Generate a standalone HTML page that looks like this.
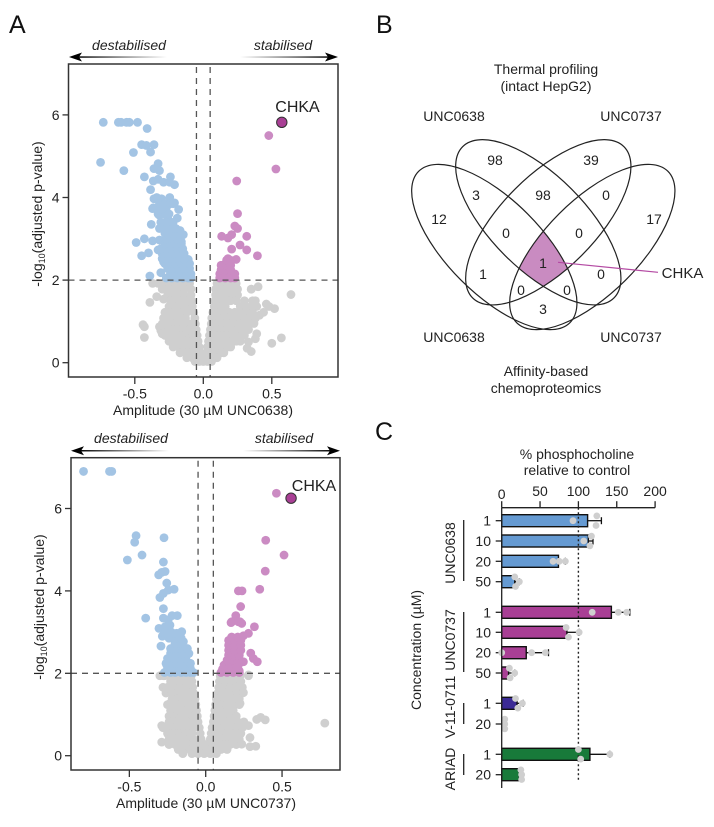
<!DOCTYPE html>
<html lang="en">
<head>
<meta charset="utf-8">
<title>CHKA thermal profiling figure</title>
<style>
html,body{margin:0;padding:0;background:#fff;}
svg{display:block;font-family:"Liberation Sans",sans-serif;fill:#222;filter:blur(0.35px);}
text{font-size:14px;}
.big{font-size:25px;fill:#111;}
.it{font-style:italic;}
</style>
</head>
<body>
<svg id="figure" xmlns="http://www.w3.org/2000/svg" width="714" height="827" viewBox="0 0 714 827">
<defs>
<linearGradient id="fadeL" x1="0" x2="1" y1="0" y2="0"><stop offset="0" stop-color="#000"/><stop offset="1" stop-color="#fff"/></linearGradient>
<linearGradient id="fadeR" x1="0" x2="1" y1="0" y2="0"><stop offset="0" stop-color="#fff"/><stop offset="1" stop-color="#000"/></linearGradient>
<clipPath id="c1"><ellipse cx="494.3" cy="247" rx="107" ry="47" transform="rotate(45 494.3 247)"/></clipPath>
<clipPath id="c2" clip-path="url(#c1)"><ellipse cx="538.3" cy="222.3" rx="107" ry="47" transform="rotate(45 538.3 222.3)"/></clipPath>
<clipPath id="c3" clip-path="url(#c2)"><ellipse cx="548.3" cy="222.3" rx="107" ry="47" transform="rotate(-45 548.3 222.3)"/></clipPath>
<clipPath id="c4" clip-path="url(#c3)"><ellipse cx="592.3" cy="247" rx="107" ry="47" transform="rotate(-45 592.3 247)"/></clipPath>
</defs>

<text class="big" x="9" y="33">A</text>
<text class="big" x="376" y="33">B</text>
<text class="big" x="375" y="440">C</text>

<g id="volcanoA"></g>
<g id="volcanoB"></g>

<g>
<text class="it" x="129" y="50" text-anchor="middle">destabilised</text>
<text class="it" x="283" y="50" text-anchor="middle">stabilised</text>
<rect x="76" y="56.3" width="91" height="1.5" fill="url(#fadeL)"/>
<polygon points="69,57 82,52.5 79,57 82,61.5" fill="#000"/>
<rect x="240" y="56.3" width="92" height="1.5" fill="url(#fadeR)"/>
<polygon points="338,57 325,52.5 328,57 325,61.5" fill="#000"/>
<text x="297.5" y="112" text-anchor="middle" style="font-size:16px">CHKA</text>
<text x="203" y="415" text-anchor="middle">Amplitude (30 µM UNC0638)</text>
<text transform="translate(42 214) rotate(-90)" text-anchor="middle">-log<tspan dy="3" style="font-size:9px">10</tspan><tspan dy="-3">(adjusted p-value)</tspan></text>
</g>

<g>
<text class="it" x="131" y="443" text-anchor="middle">destabilised</text>
<text class="it" x="284" y="443" text-anchor="middle">stabilised</text>
<rect x="78" y="450" width="91" height="1.5" fill="url(#fadeL)"/>
<polygon points="71,450.7 84,446.2 81,450.7 84,455.2" fill="#000"/>
<rect x="243" y="450" width="91" height="1.5" fill="url(#fadeR)"/>
<polygon points="340,450.7 327,446.2 330,450.7 327,455.2" fill="#000"/>
<text x="314" y="491" text-anchor="middle" style="font-size:16px">CHKA</text>
<text x="206" y="808" text-anchor="middle">Amplitude (30 µM UNC0737)</text>
<text transform="translate(44 607) rotate(-90)" text-anchor="middle">-log<tspan dy="3" style="font-size:9px">10</tspan><tspan dy="-3">(adjusted p-value)</tspan></text>
</g>

<g>
<rect x="400" y="150" width="290" height="190" fill="#c98bc1" clip-path="url(#c4)"/>
<g fill="none" stroke="#222" stroke-width="1.2">
<ellipse cx="494.3" cy="247" rx="107" ry="47" transform="rotate(45 494.3 247)"/>
<ellipse cx="538.3" cy="222.3" rx="107" ry="47" transform="rotate(45 538.3 222.3)"/>
<ellipse cx="548.3" cy="222.3" rx="107" ry="47" transform="rotate(-45 548.3 222.3)"/>
<ellipse cx="592.3" cy="247" rx="107" ry="47" transform="rotate(-45 592.3 247)"/>
</g>
<line x1="558" y1="262.3" x2="658" y2="272.3" stroke="#b44aa3" stroke-width="1.2"/>
<g text-anchor="middle">
<text x="546" y="74">Thermal profiling</text>
<text x="546" y="91">(intact HepG2)</text>
<text x="454" y="121">UNC0638</text>
<text x="631" y="121">UNC0737</text>
<text x="454" y="342">UNC0638</text>
<text x="631" y="342">UNC0737</text>
<text x="546" y="376">Affinity-based</text>
<text x="546" y="393">chemoproteomics</text>
<text x="495" y="165">98</text>
<text x="591" y="165">39</text>
<text x="476" y="200">3</text>
<text x="543" y="200">98</text>
<text x="606" y="200">0</text>
<text x="439" y="224">12</text>
<text x="654" y="224">17</text>
<text x="506" y="238">0</text>
<text x="579" y="238">0</text>
<text x="543" y="268">1</text>
<text x="483" y="279">1</text>
<text x="601" y="279">0</text>
<text x="521" y="295">0</text>
<text x="567" y="295">0</text>
<text x="543" y="314">3</text>
<text x="682.5" y="278" style="font-size:15px">CHKA</text>
</g>
</g>

<g id="barChart">
<text x="577" y="459" text-anchor="middle">% phosphocholine</text>
<text x="577" y="475" text-anchor="middle">relative to control</text>
<text transform="translate(421 650) rotate(-90)" text-anchor="middle">Concentration (µM)</text>
<text transform="translate(455 553) rotate(-90)" text-anchor="middle">UNC0638</text>
<text transform="translate(455 640) rotate(-90)" text-anchor="middle">UNC0737</text>
<text transform="translate(455 707) rotate(-90)" text-anchor="middle">V-11-0711</text>
<text transform="translate(455 769) rotate(-90)" text-anchor="middle">ARIAD</text>
<g stroke="#222" stroke-width="1.3">
<line x1="463.7" x2="463.7" y1="520" y2="581"/>
<line x1="463.7" x2="463.7" y1="612" y2="672"/>
<line x1="463.7" x2="463.7" y1="703" y2="724"/>
<line x1="463.7" x2="463.7" y1="754" y2="775"/>
</g>
</g>

<script>
/* ---------- Volcano A data (amplitude, -log10 p) ---------- */
const volcanoXTicks = [-0.5, 0, 0.5];
const volcanoYTicks = [0, 2, 4, 6];
const thresholdAmplitude = 0.05;
const thresholdLogP = 2;

const greyRowsA = [
 [1.92,[-.37,-.33,-.29,-.25,-.21,-.17,-.13,-.1,.1,.14,.18,.22,.24]],
 [1.78,[-.3,-.26,-.22,-.18,-.14,-.09,.09,.13,.17,.21,.25,.35]],
 [1.64,[-.26,-.22,-.18,-.14,-.09,.09,.13,.17,.21,.25]],
 [1.5,[-.24,-.2,-.16,-.12,-.085,.085,.12,.16,.2,.24,.3,.36,.38]],
 [1.36,[-.25,-.21,-.17,-.13,-.08,.08,.12,.16,.27,.31,.35,.39]],
 [1.22,[-.28,-.24,-.2,-.16,-.12,-.07,.07,.11,.15,.19,.23,.27,.31,.36,.44]],
 [1.08,[-.29,-.25,-.21,-.17,-.13,-.062,.062,.1,.14,.18,.22,.26,.3,.34,.38]],
 [.94,[-.3,-.26,-.22,-.18,-.14,-.1,-.058,.058,.1,.14,.18,.22,.26,.3,.34]],
 [.8,[-.31,-.26,-.22,-.18,-.14,-.1,-.052,.052,.09,.13,.17,.21,.25,.29,.33]],
 [.66,[-.28,-.24,-.2,-.16,-.12,-.08,-.045,.045,.08,.12,.16,.2,.24,.28,.3]],
 [.52,[-.25,-.21,-.17,-.13,-.09,-.038,.038,.08,.12,.16,.2,.24,.27]],
 [.38,[-.22,-.18,-.14,-.1,-.06,-.03,.03,.06,.1,.14,.18,.2]],
 [.24,[-.17,-.13,-.09,-.05,-.02,.02,.05,.09,.13,.15]],
 [.12,[-.12,-.08,-.05,-.02,.02,.05,.08,.1]],
 [.03,[-.06,-.03,0,.03,.06]]
];
const greyOutliersA = [[-.34,1.6],[-.29,1.54],[-.39,1.46],[-.44,.92],[-.43,.87],[-.43,.61],[-.32,.87],[-.31,.78],[-.3,.7],[.35,1.78],[.4,1.84],[.64,1.65],[.46,1.42],[.52,1.31],[.48,1.36],[.41,1.15],[.37,.95],[.39,.7],[.38,.58],[.5,.47],[.57,.6],[.33,.5],[.35,.27],[.32,.35]];
const blueA = [[-.73,5.82],[-.62,5.82],[-.6,5.82],[-.56,5.82],[-.54,5.82],[-.48,5.82],[-.41,5.67],[-.45,5.28],[-.415,5.26],[-.36,5.28],[-.51,5.09],[-.385,5.1],[-.75,4.85],[-.58,4.65],[-.43,4.5],[-.33,4.82],[-.36,4.7],[-.32,4.65],[-.365,4.4],[-.33,4.44],[-.24,4.5],[-.29,4.37],[-.245,4.37],[-.21,4.31],[-.385,4.19],[-.36,3.97],[-.34,4],[-.305,3.97],[-.245,4],[-.21,3.87],[-.365,3.75],[-.27,3.75],[-.18,3.71],[-.37,3.73],[-.32,3.57],[-.26,3.5],[-.19,3.5],[-.38,3.35],[-.29,3.37],[-.245,3.29],[-.32,3.25],[-.17,3.2],[-.49,2.91],[-.43,3],[-.37,2.95],[-.146,3.1],[-.28,3.13],[-.22,3.05],[-.16,2.93],[-.32,2.97],[-.45,2.59],[-.4,2.66],[-.33,2.73],[-.29,2.44],[-.39,2.1],[-.31,2.18],[-.11,2.5]];
const blueRowsA = [
 [2.05,[-.27,-.23,-.19,-.15,-.11,-.09]],
 [2.15,[-.24,-.2,-.16,-.12,-.09]],
 [2.28,[-.26,-.22,-.18,-.14,-.1]],
 [2.4,[-.28,-.24,-.2,-.16,-.12,-.1]],
 [2.52,[-.3,-.26,-.22,-.18,-.14]],
 [2.64,[-.3,-.26,-.22,-.18,-.14]],
 [2.76,[-.31,-.27,-.23,-.19,-.15]],
 [2.88,[-.28,-.24,-.2,-.16]],
 [3.0,[-.27,-.23,-.19]],
 [3.12,[-.26,-.22,-.18]],
 [3.25,[-.29,-.24,-.2]],
 [3.4,[-.31,-.27,-.22]],
 [3.6,[-.33,-.29,-.25]],
 [3.72,[-.34,-.3]],
 [3.85,[-.32,-.28,-.24,-.22]]
];
const purpleA = [[.478,5.5],[.53,4.69],[.244,4.4],[.25,3.61],[.23,3.31],[.25,3.25],[.317,3.06],[.207,3.1],[.134,3.06],[.18,3.02],[.268,2.85],[.207,2.75],[.317,2.73],[.395,2.59],[.24,2.5],[.18,2.52],[.13,2.36]];
const purpleRowsA = [
 [2.05,[.12,.16,.2,.23]],
 [2.15,[.12,.16,.2,.23]],
 [2.25,[.13,.16,.2]],
 [2.36,[.14,.17,.2]],
 [2.48,[.17,.2]]
];
const chkaA = [0.573, 5.82];

/* ---------- Volcano B data ---------- */
const greyRowsB = [
 [1.94,[-.3,-.27,-.23,-.19,-.15,-.11,-.095,.095,.13,.17,.21,.225,.28]],
 [1.8,[-.23,-.19,-.15,-.11,-.09,.09,.13,.17,.21,.23]],
 [1.66,[-.28,-.25,-.21,-.17,-.13,-.085,.085,.12,.16,.2,.24]],
 [1.52,[-.26,-.22,-.18,-.14,-.1,-.08,.08,.12,.16,.2,.24]],
 [1.38,[-.22,-.18,-.14,-.1,-.07,.07,.11,.15,.19,.22]],
 [1.24,[-.25,-.21,-.17,-.13,-.09,-.065,.065,.1,.14,.18,.22]],
 [1.1,[-.23,-.19,-.15,-.11,-.06,.06,.1,.14,.18]],
 [.96,[-.24,-.2,-.16,-.12,-.08,-.055,.055,.09,.13,.17,.2]],
 [.82,[-.24,-.2,-.16,-.12,-.08,-.05,.05,.09,.13,.17,.21,.25]],
 [.68,[-.28,-.24,-.2,-.16,-.12,-.08,-.042,.042,.08,.12,.16,.2,.24]],
 [.54,[-.25,-.21,-.17,-.13,-.09,-.036,.036,.07,.11,.15,.19,.23]],
 [.4,[-.24,-.2,-.16,-.12,-.08,-.03,.03,.07,.11,.15,.19,.22]],
 [.27,[-.24,-.2,-.16,-.12,-.08,-.04,0,.04,.08,.12,.16,.2]],
 [.15,[-.18,-.14,-.1,-.06,-.02,.02,.06,.1,.14]],
 [.05,[-.15,-.09,-.05,-.01,.03,.07]]
];
const greyOutliersB = [[.78,.79],[.39,.87],[.36,.93],[.334,.88],[.28,.73],[.26,.75],[.29,.44],[.328,.23],[.29,.22],[.236,.28],[.28,1.96],[.247,1.53],[.225,1.27],[-.277,1.94],[-.255,1.64],[-.234,1.27],[-.288,.73],[-.288,.33],[-.15,.07]];
const blueB = [[-.8,6.9],[-.63,6.9],[-.615,6.9],[-.456,5.34],[-.465,5.18],[-.273,5.29],[-.513,4.75],[-.417,4.87],[-.277,4.7],[-.308,4.39],[-.288,4.45],[-.266,4.47],[-.255,4.19],[-.3,3.84],[-.277,3.94],[-.245,4.02],[-.207,4.04],[-.277,3.57],[-.393,3.34],[-.277,3.34],[-.22,3.4],[-.186,3.4],[-.306,3.09],[-.266,3.13],[-.234,3.17],[-.245,3.3],[-.157,3.01],[-.284,2.9],[-.234,2.89],[-.19,2.85],[-.293,2.66],[-.2,2.73],[-.146,2.77],[-.124,2.53],[-.255,2.2],[-.1,2.24],[-.26,3.0],[-.225,3.0]];
const blueRowsB = [
 [2.02,[-.27,-.23,-.2,-.16,-.13,-.1,-.08]],
 [2.12,[-.25,-.21,-.17,-.13,-.1]],
 [2.24,[-.26,-.22,-.18,-.14,-.1]],
 [2.36,[-.25,-.21,-.17,-.13]],
 [2.48,[-.23,-.19,-.15,-.11]],
 [2.6,[-.23,-.19,-.15,-.12]],
 [2.72,[-.2,-.16]],
 [2.85,[-.24,-.2,-.16]],
 [2.97,[-.27,-.23,-.19]]
];
const purpleB = [[.463,6.37],[.393,5.23],[.513,4.87],[.39,4.48],[.354,4.04],[.214,4],[.238,4],[.229,3.62],[.197,3.4],[.17,3.25],[.225,3.25],[.166,3.23],[.214,3.25],[.236,3.21],[.319,3.13],[.28,2.97],[.247,2.91],[.295,2.49],[.312,2.36],[.338,2.28],[.247,2.28],[.214,2.2],[.22,2.06]];
const purpleRowsB = [
 [2.02,[.1,.14,.18,.22]],
 [2.1,[.11,.15,.19]],
 [2.2,[.12,.16,.2]],
 [2.32,[.14,.18,.21]],
 [2.44,[.15,.19,.22]],
 [2.56,[.15,.19,.23]],
 [2.68,[.15,.19,.23]],
 [2.8,[.15,.19,.23]],
 [2.88,[.17,.21]]
];
const chkaB = [0.559, 6.25];

/* ---------- Bar chart data ---------- */
const barXTicks = [0, 50, 100, 150, 200];
const concentrations = ['1','10','20','50','1','10','20','50','1','20','1','20'];
const barGroups = ['UNC0638','UNC0638','UNC0638','UNC0638','UNC0737','UNC0737','UNC0737','UNC0737','V-11-0711','V-11-0711','ARIAD','ARIAD'];
const barValues = [112, 113, 74, 17, 143, 85, 32, 9, 20, 0, 115, 23];
const barErrors = [130, 119, 83, 23, 167, 101, 61, 17, 28, 4, 141, 26];
const replicates = [[124,93,123],[117,107,115],[67,75,83],[17,23,18],[118,152,163],[84,101,87],[0,39,57],[10,17,11],[18,27,21],[4,4,4],[100,141,103],[25,26,26]];
const replicatesStacked = [true,true,false,true,false,true,false,true,true,true,true,true];
const referenceLevel = 100;

/* ---------- Helpers ---------- */
const NS = 'http://www.w3.org/2000/svg';
function mk(parent, tag, attrs, txt) {
  const el = document.createElementNS(NS, tag);
  for (const k in attrs) el.setAttribute(k, attrs[k]);
  if (txt !== undefined) el.textContent = txt;
  parent.appendChild(el);
  return el;
}
function expandRows(rows) {
  const out = [];
  rows.forEach(r => r[1].forEach(x => out.push([x, r[0]])));
  return out;
}
function drawVolcano(root, geo, grey, blue, purple, chka) {
  const sx = v => geo.x0 + v * geo.xs;
  const sy = v => geo.y0 - v * geo.ys;
  const series = [[grey, '#cfcfcf', 'not-significant-point'], [blue, '#a3c4e4', 'destabilised-point'], [purple, '#cb8bc3', 'stabilised-point']];
  series.forEach(s => {
    s[0].forEach(p => {
      const c = mk(root, 'circle', {cx: sx(p[0]), cy: sy(p[1]), r: 4.4, fill: s[1]});
      
      
    });
  });
  const hi = mk(root, 'circle', {cx: sx(chka[0]), cy: sy(chka[1]), r: 5.2, fill: '#a93f95', stroke: '#333', 'stroke-width': 1});
  
  
  [-thresholdAmplitude, thresholdAmplitude].forEach(a => {
    const l = mk(root, 'line', {x1: sx(a), x2: sx(a), y1: geo.top + 3, y2: geo.bottom, stroke: '#555', 'stroke-width': 1.3, 'stroke-dasharray': '6 5'});
    
    
  });
  const h = mk(root, 'line', {x1: geo.left, x2: geo.right, y1: sy(thresholdLogP), y2: sy(thresholdLogP), stroke: '#555', 'stroke-width': 1.3, 'stroke-dasharray': '6 5'});
  
  
  const frame = mk(root, 'rect', {x: geo.left, y: geo.top, width: geo.right - geo.left, height: geo.bottom - geo.top, fill: 'none', stroke: '#333', 'stroke-width': 1.5});
  
  
  volcanoXTicks.forEach(v => {
    const t = mk(root, 'line', {x1: sx(v), x2: sx(v), y1: geo.bottom, y2: geo.bottom + 7, stroke: '#333', 'stroke-width': 1.3});
    
    
    const lab = mk(root, 'text', {x: sx(v), y: geo.bottom + 21.5, 'text-anchor': 'middle'}, v.toFixed(1));
    
    
  });
  volcanoYTicks.forEach(v => {
    const t = mk(root, 'line', {x1: geo.left - 6, x2: geo.left, y1: sy(v), y2: sy(v), stroke: '#333', 'stroke-width': 1.3});
    
    
    const lab = mk(root, 'text', {x: geo.left - 9, y: sy(v) + 5, 'text-anchor': 'end'}, String(v));
    
    
  });
}

drawVolcano(document.getElementById('volcanoA'),
  {left: 68.5, right: 338, top: 64, bottom: 377, x0: 203.3, xs: 137, y0: 362.7, ys: 41.3},
  expandRows(greyRowsA).concat(greyOutliersA), blueA.concat(expandRows(blueRowsA)), purpleA.concat(expandRows(purpleRowsA)), chkaA);
drawVolcano(document.getElementById('volcanoB'),
  {left: 71, right: 340, top: 457.7, bottom: 770, x0: 205.7, xs: 152.7, y0: 755.7, ys: 41.2},
  expandRows(greyRowsB).concat(greyOutliersB), blueB.concat(expandRows(blueRowsB)), purpleB.concat(expandRows(purpleRowsB)), chkaB);

/* ---------- Bar chart ---------- */
(function () {
  const root = document.getElementById('barChart');
  const x0 = 501.7, xs = 0.767, axisY = 507.7, axisEnd = 788;
  const sx = v => x0 + v * xs;
  const rowPositions = [520.7, 541, 561.3, 581.7, 612.3, 632.3, 652.7, 673, 703.3, 724, 754.3, 774.7];
  const groupColor = {'UNC0638': '#659ad2', 'UNC0737': '#a93f95', 'V-11-0711': '#3b2a95', 'ARIAD': '#187a3a'};

  barValues.forEach((v, i) => {
    const y = rowPositions[i];
    const e = mk(root, 'line', {x1: sx(v), x2: sx(barErrors[i]), y1: y, y2: y, stroke: '#111', 'stroke-width': 1.3});
    
    
    const cap = mk(root, 'line', {x1: sx(barErrors[i]), x2: sx(barErrors[i]), y1: y - 3.5, y2: y + 3.5, stroke: '#111', 'stroke-width': 1.3});
    
    
    if (v > 0) {
      const b = mk(root, 'rect', {x: x0, y: y - 6, width: v * xs, height: 12, fill: groupColor[barGroups[i]], stroke: '#111', 'stroke-width': 1.4});
      
      
    }
    const t = mk(root, 'line', {x1: x0 - 6, x2: x0, y1: y, y2: y, stroke: '#222', 'stroke-width': 1.3});
    
    
    const lab = mk(root, 'text', {x: 491, y: y + 5, 'text-anchor': 'end'}, concentrations[i]);
    
    
  });

  const refLine = mk(root, 'line', {x1: sx(referenceLevel), x2: sx(referenceLevel), y1: axisY, y2: 782, stroke: '#222', 'stroke-width': 1.4, 'stroke-dasharray': '2 2.5'});
  
  

  replicates.forEach((vals, i) => {
    const y = rowPositions[i];
    vals.forEach((v, j) => {
      const dy = replicatesStacked[i] ? (j - 1) * 4.8 : 0;
      const c = mk(root, 'circle', {cx: sx(v), cy: y + dy, r: 3.4, fill: '#cfcfcf'});
      
      
    });
  });

  const ax = mk(root, 'line', {x1: x0, x2: sx(barXTicks[barXTicks.length - 1]), y1: axisY, y2: axisY, stroke: '#222', 'stroke-width': 1.3});
  
  
  const ay = mk(root, 'line', {x1: x0, x2: x0, y1: axisY, y2: axisEnd, stroke: '#222', 'stroke-width': 1.3});
  
  
  barXTicks.forEach(v => {
    const t = mk(root, 'line', {x1: sx(v), x2: sx(v), y1: axisY - 6.5, y2: axisY, stroke: '#222', 'stroke-width': 1.3});
    
    
    const lab = mk(root, 'text', {x: sx(v), y: v === 0 ? 499 : 496, 'text-anchor': 'middle'}, String(v));
    
    
  });
})();
</script>
</svg>
</body>
</html>
